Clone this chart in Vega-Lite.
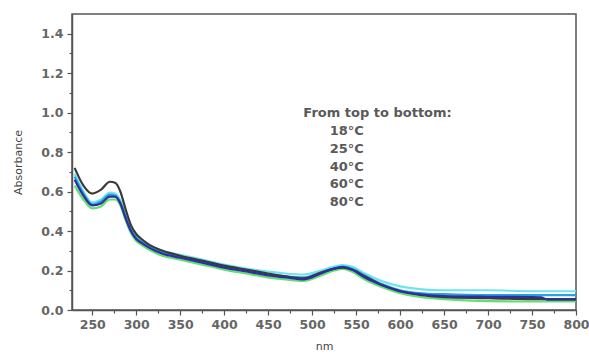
{
  "$schema": "https://vega.github.io/schema/vega-lite/v6.json",
  "width": 504,
  "height": 296,
  "autosize": "none",
  "padding": {"left": 72, "top": 14, "right": 13, "bottom": 46},
  "background": "white",
  "config": {
    "view": {"stroke": "#555", "strokeWidth": 1.5},
    "axis": {
      "labelFont": "DejaVu Sans", "labelFontSize": 12.5, "labelFontWeight": "bold", "labelColor": "#666",
      "titleFont": "DejaVu Sans", "titleFontSize": 11, "titleFontWeight": "normal", "titleColor": "#444",
      "domainColor": "#555", "domainWidth": 1.5, "tickColor": "#555", "tickWidth": 1.2,
      "grid": false
    }
  },
  "datasets": {
    "spectra": [
      {"temp":"80°C","nm":230,"abs":0.63},{"temp":"80°C","nm":240,"abs":0.56},{"temp":"80°C","nm":250,"abs":0.515},{"temp":"80°C","nm":260,"abs":0.525},{"temp":"80°C","nm":270,"abs":0.56},{"temp":"80°C","nm":276,"abs":0.56},{"temp":"80°C","nm":282,"abs":0.53},{"temp":"80°C","nm":288,"abs":0.455},{"temp":"80°C","nm":294,"abs":0.39},{"temp":"80°C","nm":300,"abs":0.35},{"temp":"80°C","nm":306,"abs":0.33},{"temp":"80°C","nm":315,"abs":0.305},{"temp":"80°C","nm":330,"abs":0.275},{"temp":"80°C","nm":350,"abs":0.255},{"temp":"80°C","nm":375,"abs":0.23},{"temp":"80°C","nm":400,"abs":0.205},{"temp":"80°C","nm":425,"abs":0.185},{"temp":"80°C","nm":450,"abs":0.165},{"temp":"80°C","nm":470,"abs":0.155},{"temp":"80°C","nm":490,"abs":0.148},{"temp":"80°C","nm":510,"abs":0.175},{"temp":"80°C","nm":525,"abs":0.2},{"temp":"80°C","nm":535,"abs":0.208},{"temp":"80°C","nm":545,"abs":0.195},{"temp":"80°C","nm":560,"abs":0.155},{"temp":"80°C","nm":580,"abs":0.115},{"temp":"80°C","nm":600,"abs":0.085},{"temp":"80°C","nm":625,"abs":0.065},{"temp":"80°C","nm":650,"abs":0.055},{"temp":"80°C","nm":700,"abs":0.045},{"temp":"80°C","nm":750,"abs":0.043},{"temp":"80°C","nm":800,"abs":0.043},
      {"temp":"25°C","nm":230,"abs":0.69},{"temp":"25°C","nm":240,"abs":0.6},{"temp":"25°C","nm":250,"abs":0.545},{"temp":"25°C","nm":260,"abs":0.56},{"temp":"25°C","nm":270,"abs":0.595},{"temp":"25°C","nm":276,"abs":0.59},{"temp":"25°C","nm":282,"abs":0.555},{"temp":"25°C","nm":288,"abs":0.48},{"temp":"25°C","nm":294,"abs":0.415},{"temp":"25°C","nm":300,"abs":0.375},{"temp":"25°C","nm":306,"abs":0.355},{"temp":"25°C","nm":315,"abs":0.33},{"temp":"25°C","nm":330,"abs":0.3},{"temp":"25°C","nm":350,"abs":0.28},{"temp":"25°C","nm":375,"abs":0.255},{"temp":"25°C","nm":400,"abs":0.23},{"temp":"25°C","nm":425,"abs":0.21},{"temp":"25°C","nm":450,"abs":0.195},{"temp":"25°C","nm":470,"abs":0.185},{"temp":"25°C","nm":490,"abs":0.18},{"temp":"25°C","nm":510,"abs":0.2},{"temp":"25°C","nm":525,"abs":0.22},{"temp":"25°C","nm":535,"abs":0.228},{"temp":"25°C","nm":545,"abs":0.22},{"temp":"25°C","nm":560,"abs":0.185},{"temp":"25°C","nm":580,"abs":0.145},{"temp":"25°C","nm":600,"abs":0.12},{"temp":"25°C","nm":625,"abs":0.105},{"temp":"25°C","nm":650,"abs":0.1},{"temp":"25°C","nm":700,"abs":0.1},{"temp":"25°C","nm":750,"abs":0.095},{"temp":"25°C","nm":800,"abs":0.095},
      {"temp":"40°C","nm":230,"abs":0.675},{"temp":"40°C","nm":240,"abs":0.59},{"temp":"40°C","nm":250,"abs":0.535},{"temp":"40°C","nm":260,"abs":0.55},{"temp":"40°C","nm":270,"abs":0.585},{"temp":"40°C","nm":276,"abs":0.58},{"temp":"40°C","nm":282,"abs":0.545},{"temp":"40°C","nm":288,"abs":0.47},{"temp":"40°C","nm":294,"abs":0.405},{"temp":"40°C","nm":300,"abs":0.365},{"temp":"40°C","nm":306,"abs":0.345},{"temp":"40°C","nm":315,"abs":0.32},{"temp":"40°C","nm":330,"abs":0.29},{"temp":"40°C","nm":350,"abs":0.27},{"temp":"40°C","nm":375,"abs":0.245},{"temp":"40°C","nm":400,"abs":0.22},{"temp":"40°C","nm":425,"abs":0.2},{"temp":"40°C","nm":450,"abs":0.18},{"temp":"40°C","nm":470,"abs":0.17},{"temp":"40°C","nm":490,"abs":0.165},{"temp":"40°C","nm":510,"abs":0.19},{"temp":"40°C","nm":525,"abs":0.21},{"temp":"40°C","nm":535,"abs":0.22},{"temp":"40°C","nm":545,"abs":0.21},{"temp":"40°C","nm":560,"abs":0.175},{"temp":"40°C","nm":580,"abs":0.13},{"temp":"40°C","nm":600,"abs":0.1},{"temp":"40°C","nm":625,"abs":0.085},{"temp":"40°C","nm":650,"abs":0.08},{"temp":"40°C","nm":700,"abs":0.075},{"temp":"40°C","nm":750,"abs":0.075},{"temp":"40°C","nm":800,"abs":0.075},
      {"temp":"18°C","nm":230,"abs":0.72},{"temp":"18°C","nm":240,"abs":0.63},{"temp":"18°C","nm":250,"abs":0.59},{"temp":"18°C","nm":260,"abs":0.61},{"temp":"18°C","nm":270,"abs":0.65},{"temp":"18°C","nm":276,"abs":0.645},{"temp":"18°C","nm":282,"abs":0.6},{"temp":"18°C","nm":288,"abs":0.51},{"temp":"18°C","nm":294,"abs":0.43},{"temp":"18°C","nm":300,"abs":0.385},{"temp":"18°C","nm":306,"abs":0.36},{"temp":"18°C","nm":315,"abs":0.33},{"temp":"18°C","nm":330,"abs":0.3},{"temp":"18°C","nm":350,"abs":0.275},{"temp":"18°C","nm":375,"abs":0.25},{"temp":"18°C","nm":400,"abs":0.225},{"temp":"18°C","nm":425,"abs":0.205},{"temp":"18°C","nm":450,"abs":0.185},{"temp":"18°C","nm":470,"abs":0.17},{"temp":"18°C","nm":490,"abs":0.16},{"temp":"18°C","nm":510,"abs":0.19},{"temp":"18°C","nm":525,"abs":0.21},{"temp":"18°C","nm":535,"abs":0.215},{"temp":"18°C","nm":545,"abs":0.205},{"temp":"18°C","nm":560,"abs":0.17},{"temp":"18°C","nm":580,"abs":0.125},{"temp":"18°C","nm":600,"abs":0.095},{"temp":"18°C","nm":625,"abs":0.075},{"temp":"18°C","nm":650,"abs":0.065},{"temp":"18°C","nm":700,"abs":0.06},{"temp":"18°C","nm":750,"abs":0.055},{"temp":"18°C","nm":800,"abs":0.055},
      {"temp":"60°C","nm":230,"abs":0.66},{"temp":"60°C","nm":240,"abs":0.58},{"temp":"60°C","nm":250,"abs":0.53},{"temp":"60°C","nm":260,"abs":0.54},{"temp":"60°C","nm":270,"abs":0.575},{"temp":"60°C","nm":276,"abs":0.575},{"temp":"60°C","nm":282,"abs":0.54},{"temp":"60°C","nm":288,"abs":0.465},{"temp":"60°C","nm":294,"abs":0.4},{"temp":"60°C","nm":300,"abs":0.36},{"temp":"60°C","nm":306,"abs":0.34},{"temp":"60°C","nm":315,"abs":0.315},{"temp":"60°C","nm":330,"abs":0.285},{"temp":"60°C","nm":350,"abs":0.265},{"temp":"60°C","nm":375,"abs":0.24},{"temp":"60°C","nm":400,"abs":0.215},{"temp":"60°C","nm":425,"abs":0.195},{"temp":"60°C","nm":450,"abs":0.175},{"temp":"60°C","nm":470,"abs":0.165},{"temp":"60°C","nm":490,"abs":0.155},{"temp":"60°C","nm":510,"abs":0.185},{"temp":"60°C","nm":525,"abs":0.21},{"temp":"60°C","nm":535,"abs":0.218},{"temp":"60°C","nm":545,"abs":0.205},{"temp":"60°C","nm":560,"abs":0.165},{"temp":"60°C","nm":580,"abs":0.125},{"temp":"60°C","nm":600,"abs":0.095},{"temp":"60°C","nm":625,"abs":0.078},{"temp":"60°C","nm":650,"abs":0.07},{"temp":"60°C","nm":700,"abs":0.067},{"temp":"60°C","nm":750,"abs":0.066},{"temp":"60°C","nm":760,"abs":0.064},{"temp":"60°C","nm":768,"abs":0.053},{"temp":"60°C","nm":800,"abs":0.052}
    ],
    "notes": [
      {"label":"From top to bottom:","nm":490,"abs":1.0},
      {"label":"18°C","nm":520,"abs":0.909},
      {"label":"25°C","nm":520,"abs":0.818},
      {"label":"40°C","nm":520,"abs":0.727},
      {"label":"60°C","nm":520,"abs":0.636},
      {"label":"80°C","nm":520,"abs":0.545}
    ]
  },
  "layer": [
    {
      "data": {"name": "spectra"},
      "mark": {"type": "line", "strokeWidth": 2.2, "interpolate": "monotone", "clip": true},
      "encoding": {
        "x": {"field": "nm", "type": "quantitative", "scale": {"domain": [227, 800], "nice": false, "zero": false},
          "axis": {"title": "nm", "values": [250,300,350,400,450,500,550,600,650,700,750,800], "tickSize": 5, "labelPadding": 3, "titlePadding": 10, "labelFlush": false}},
        "y": {"field": "abs", "type": "quantitative", "scale": {"domain": [0, 1.5], "nice": false},
          "axis": {"title": "Absorbance", "values": [0,0.2,0.4,0.6,0.8,1.0,1.2,1.4], "format": ".1f", "tickSize": 5, "labelPadding": 4, "titlePadding": 17, "labelFlush": false}},
        "color": {"field": "temp", "type": "nominal", "legend": null,
          "scale": {"domain": ["18°C","25°C","40°C","60°C","80°C"], "range": ["#3a3a3a","#6fe3f2","#2b9fe0","#2e2e9c","#62df6e"]}}
      }
    },
    {
      "data": {"name": "notes"},
      "mark": {"type": "text", "align": "left", "baseline": "middle", "font": "DejaVu Sans", "fontSize": 13, "fontWeight": "bold", "color": "#5a5a5a"},
      "encoding": {
        "x": {"field": "nm", "type": "quantitative",
          "axis": {"title": null, "orient": "bottom", "labels": false, "domain": false, "tickSize": 3, "values": [275,325,375,425,475,525,575,625,675,725,775]}},
        "y": {"field": "abs", "type": "quantitative",
          "axis": {"title": null, "orient": "left", "labels": false, "domain": false, "tickSize": 3, "values": [0.1,0.3,0.5,0.7,0.9,1.1,1.3]}},
        "text": {"field": "label"}
      }
    }
  ],
  "resolve": {"axis": {"x": "independent", "y": "independent"}}
}
